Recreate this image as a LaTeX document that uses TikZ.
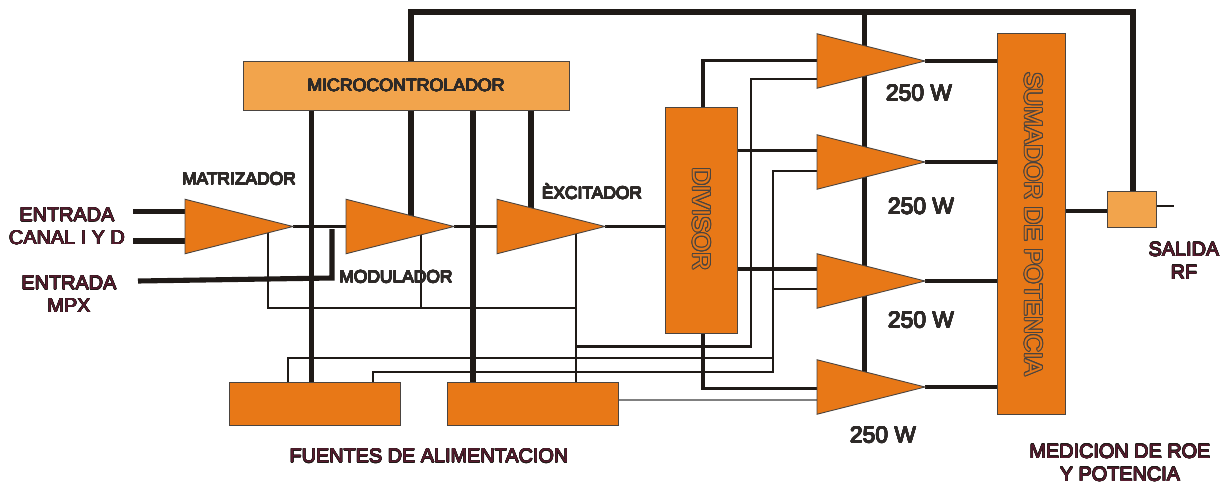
\documentclass[tikz,border=0pt]{standalone}
\usepackage{xcolor}
\usepackage{fontspec}
\setmainfont{Liberation Sans}
\definecolor{mainDark}{HTML}{1F1A17}
\definecolor{edgeGray}{HTML}{4A4440}
\definecolor{ampColor}{HTML}{E87817}
\definecolor{lightColor}{HTML}{F2A44C}
\definecolor{wineColor}{HTML}{5A1C30}
\definecolor{textGray}{HTML}{2E2A28}
\usepackage{contour}
\contournumber{16}
\contourlength{0.22pt}
\newcommand{\grayText}[1]{\contour{textGray}{#1}}
\newcommand{\wineText}[1]{\contour{mainDark}{#1}}
\newcommand{\upText}[1]{\contourlength{0.55pt}\contour{edgeGray}{\textcolor{ampColor}{#1}}}
\usetikzlibrary{shapes.geometric,positioning,calc,backgrounds}
\tikzset{
  ampTri/.style={
    isosceles triangle,
    isosceles triangle stretches,
    draw=edgeGray,
    fill=ampColor,
    line width=0.5pt,
    inner sep=0pt,
    outer sep=0pt,
    minimum height=2.16cm,
    minimum width=1.09cm,
    anchor=apex
 },
  ampBox/.style={
    rectangle,
    draw=edgeGray,
    fill=ampColor,
    line width=0.5pt,
    inner sep=0pt,
    outer sep=0pt
 },
  lightBox/.style={
    ampBox,
    fill=lightColor
 },
  heavyWire/.style={line width=2.9pt, color=mainDark},
  midWire/.style={line width=2.2pt, color=mainDark},
  thinWire/.style={line width=1.5pt, color=mainDark},
  smallTag/.style={font=\fontsize{9.9}{11}\selectfont, text=textGray, inner sep=0pt},
  wineTag/.style={font=\fontsize{11.3}{13}\selectfont, text=wineColor, align=center, inner sep=0pt},
  powerTag/.style={font=\fontsize{13}{15}\selectfont, text=textGray, inner sep=0pt},
  upTag/.style={font=\fontsize{14.2}{16}\selectfont, rotate=-90, inner sep=0pt}
}
\begin{document}
\begin{tikzpicture}[x=0.02cm,y=-0.02cm]
            \useasboundingbox (0,0) rectangle (1231,483);

            % chain of amplifiers
            \node[ampTri] (ampMat) at (293,226.5) {};
            \node[ampTri] (ampMod) at (454,226.5) {};
            \node[ampTri] (ampExc) at (605,226.5) {};
            % power stages
            \node[ampTri] (ampA) at (925,61) {};
            \node[ampTri] (ampB) at (925,162) {};
            \node[ampTri] (ampC) at (925,281) {};
            \node[ampTri] (ampD) at (925,387) {};

            % boxes
            \node[lightBox, minimum width=6.52cm, minimum height=0.98cm] (boxMicro) at (406,85.5) {\fontsize{10.1}{12}\selectfont\color{textGray}\raisebox{-0.8pt}{\grayText{MICROCONTROLADOR}}};
            \node[ampBox, minimum width=1.44cm, minimum height=4.52cm] (boxDiv) at (701,220) {};
            \node[ampBox, minimum width=1.36cm, minimum height=7.62cm] (boxSum) at (1031,223.5) {};
            \node[ampBox, minimum width=3.42cm, minimum height=0.86cm] (boxSrcA) at (314.5,403.5) {};
            \node[ampBox, minimum width=3.42cm, minimum height=0.86cm] (boxSrcB) at (532.5,403.5) {};
            \node[lightBox, minimum width=0.98cm, minimum height=0.72cm] (boxOut) at (1131.5,209) {};

            \node[upTag] (txtDiv) at (701,219) {\upText{DIVISOR}};
            \node[upTag] (txtSum) at (1033,224) {\upText{SUMADOR DE POTENCIA}};

            % labels
            \node[smallTag] (txtMat) at (239,179) {\grayText{MATRIZADOR}};
            \node[smallTag] (txtMod) at (396,277) {\grayText{MODULADOR}};
            \node[smallTag] (txtExc) at (592,192) {\grayText{ÈXCITADOR}};
            \node[powerTag] (txtPowA) at (919,93) {\grayText{250 W}};
            \node[powerTag] (txtPowB) at (921,206.5) {\grayText{250 W}};
            \node[powerTag] (txtPowC) at (921,320) {\grayText{250 W}};
            \node[powerTag] (txtPowD) at (883,435) {\grayText{250 W}};
            \node[wineTag] (txtIn) at (67,226.5) {\wineText{ENTRADA}\\\wineText{CANAL I Y D}};
            \node[wineTag] (txtMpx) at (69,294.5) {\wineText{ENTRADA}\\\wineText{MPX}};
            \node[wineTag] (txtSrc) at (429,456) {\wineText{FUENTES DE ALIMENTACION}};
            \node[wineTag] (txtRoe) at (1120,463) {\wineText{MEDICION DE ROE}\\\wineText{Y POTENCIA}};
            \node[wineTag] (txtRf) at (1184,261) {\wineText{SALIDA}\\\wineText{RF}};

            % points the wires turn at
            \coordinate (colA) at (311.5,0);
            \coordinate (colB) at (411,0);
            \coordinate (colC) at (473,0);
            \coordinate (colD) at (531,0);
            \coordinate (colBus) at (864.5,12);
            \coordinate (busLeft) at (411,12);
            \coordinate (busRight) at (1133,12);
            \coordinate (inLeft) at (133,211.5);
            \coordinate (inRight) at (133,241);
            \coordinate (inMpx) at (138,281);
            \coordinate (modKnee) at (332,278);
            \coordinate (modTop) at (332,229);
            \coordinate (tapMat) at (268,226);
            \coordinate (tapMod) at (421,226);
            \coordinate (tapExc) at (576,226);
            \coordinate (rowBack) at (576,308);
            \coordinate (railLow) at (576,346.5);
            \coordinate (colLow) at (751,346.5);
            \coordinate (srcA) at (288,358);
            \coordinate (srcB) at (373,372);
            \coordinate (railA) at (773,358);
            \coordinate (railB) at (773,372);
            \coordinate (feedA) at (817,79);
            \coordinate (feedB) at (817,171);
            \coordinate (feedC) at (817,289);
            \coordinate (feedD) at (817,400);
            \coordinate (divA) at (817,60.5);
            \coordinate (divB) at (817,150.5);
            \coordinate (divC) at (817,269);
            \coordinate (divD) at (817,388.5);
            \coordinate (outEnd) at (1174,206);
            \coordinate (sumOut) at (1107,211);

            \begin{scope}[on background layer]
            % micro and RF bus
            \draw[heavyWire] (busLeft |- boxMicro.north) -- (busLeft) -- (busRight) -- (busRight |- boxOut.north);
            \draw[heavyWire] (colBus) -- (colBus |- ampD.apex);
            \draw[heavyWire] (colA |- boxMicro.south) -- (colA |- boxSrcA.north);
            \draw[heavyWire] (colB |- boxMicro.south) -- (colB |- ampMod.apex);
            \draw[heavyWire] (colC |- boxMicro.south) -- (colC |- boxSrcB.north);
            \draw[heavyWire] (colD |- boxMicro.south) -- (colD |- ampExc.apex);
            % inputs
            \draw[heavyWire] (inLeft) -- (inLeft -| ampMat.left corner);
            \draw[heavyWire] (inRight) -- (inRight -| ampMat.left corner);
            \draw[heavyWire] (inMpx) -- (modKnee) -- (modTop);
            % signal path
            \draw[thinWire] (ampMat.apex) -- (ampMod.apex -| ampMod.left corner);
            \draw[thinWire] (ampMod.apex) -- (ampExc.apex -| ampExc.left corner);
            \draw[thinWire] (ampExc.apex) -- (ampExc.apex -| boxDiv.west);
            % supply taps
            \draw[thinWire] (tapMat) |- (rowBack);
            \draw[thinWire] (tapMod) -- (tapMod |- rowBack);
            \draw[thinWire] (tapExc) -- (tapExc |- boxSrcB.north);
            \draw[thinWire] (railLow) -- (colLow) |- (feedA);
            \draw[thinWire] (srcA |- boxSrcA.north) -- (srcA) -- (railA) |- (feedB);
            \draw[thinWire] (srcB |- boxSrcA.north) -- (srcB) -- (railB) -- (railA);
            \draw[thinWire] (railA |- feedC) -- (feedC);
            \draw[line width=0.9pt, color=gray] (feedD -| boxSrcB.east) -- (feedD);
            % divider to power stages
            \draw[midWire] ([xshift=1pt]boxDiv.north) |- (divA);
            \draw[midWire] (divB -| boxDiv.east) -- (divB);
            \draw[midWire] (divC -| boxDiv.east) -- (divC);
            \draw[midWire] ([xshift=1pt]boxDiv.south) |- (divD);
            % power stages to combiner
            \draw[midWire] (ampA.apex) -- (ampA.apex -| boxSum.west);
            \draw[midWire] (ampB.apex) -- (ampB.apex -| boxSum.west);
            \draw[midWire] (ampC.apex) -- (ampC.apex -| boxSum.west);
            \draw[midWire] (ampD.apex) -- (ampD.apex -| boxSum.west);
            \draw[midWire] (sumOut -| boxSum.east) -- (sumOut);
            \draw[line width=0.6pt, color=mainDark] (outEnd -| boxOut.east) -- (outEnd);
            \end{scope}
        \end{tikzpicture}
\end{document}
